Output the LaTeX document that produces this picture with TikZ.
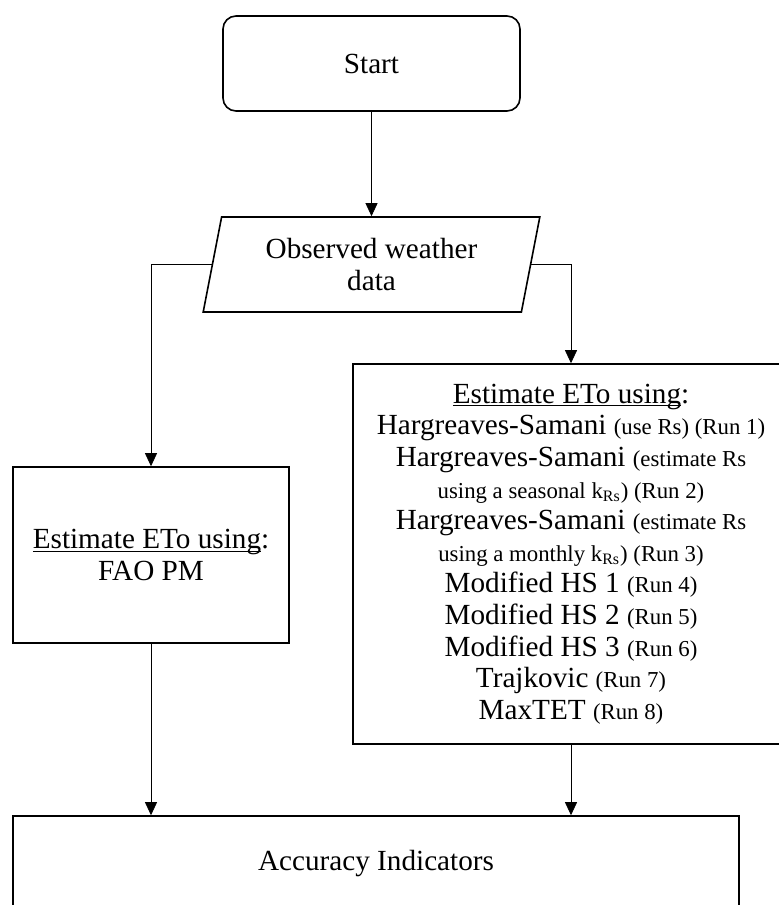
\documentclass[tikz,border=0pt]{standalone}
\usepackage{fontspec}
\setmainfont{Liberation Serif}
\usetikzlibrary{arrows.meta,shapes.geometric}

\tikzset{
  box/.style={draw, line width=0.8pt, align=center, inner sep=0pt},
  arr/.style={-{Triangle[length=6.5pt,width=6pt]}, line width=0.4pt},
}
\newcommand{\runtxt}[1]{{\fontsize{11.4}{12}\selectfont #1}}
\newcommand{\ulin}[1]{\leavevmode\setbox0\hbox{#1}\rlap{\rule[-1.6pt]{\wd0}{0.5pt}}\copy0}

\begin{document}
\begin{tikzpicture}[x=0.5pt,y=-0.5pt,font=\fontsize{14.6}{15.8}\selectfont]
        \useasboundingbox (0,0) rectangle (779,905);

        % Blocchi
        \node[box, rounded corners=6.5pt, minimum width=148.5pt, minimum height=47.5pt] (start) at (371.5,63.5) {Start};
        \node[box, trapezium, trapezium left angle=76, trapezium right angle=104, trapezium stretches,
              minimum width=168.5pt, minimum height=47.5pt] (obs) at (371.5,264.5) {Observed weather\\data};
        \node[box, minimum width=138pt, minimum height=88pt] (fao) at (151,555) {\ulin{Estimate ETo using}:\\FAO PM};
        \node[box, minimum width=218pt, minimum height=190pt] (runs) at (571,554) {\ulin{Estimate ETo using}:\\
              Hargreaves-Samani \runtxt{(use Rs) (Run 1)}\\
              Hargreaves-Samani \runtxt{(estimate Rs}\\
              \runtxt{using a seasonal k\textsubscript{Rs}) (Run 2)}\\
              Hargreaves-Samani \runtxt{(estimate Rs}\\
              \runtxt{using a monthly k\textsubscript{Rs}) (Run 3)}\\
              Modified HS 1 \runtxt{(Run 4)}\\
              Modified HS 2 \runtxt{(Run 5)}\\
              Modified HS 3 \runtxt{(Run 6)}\\
              Trajkovic \runtxt{(Run 7)}\\
              MaxTET \runtxt{(Run 8)}};
        \node[box, minimum width=363pt, minimum height=48pt] (acc) at (376,864) {Accuracy Indicators};

        % Frecce
        \draw[arr] (start.south) -- (obs.north);
        \draw[arr] (obs.west) -| (fao.north);
        \draw[arr] (obs.east) -| (runs.north);
        \draw[arr] (fao.south) -- (fao.south |- acc.north);
        \draw[arr] (runs.south) -- (runs.south |- acc.north);
    \end{tikzpicture}
\end{document}
